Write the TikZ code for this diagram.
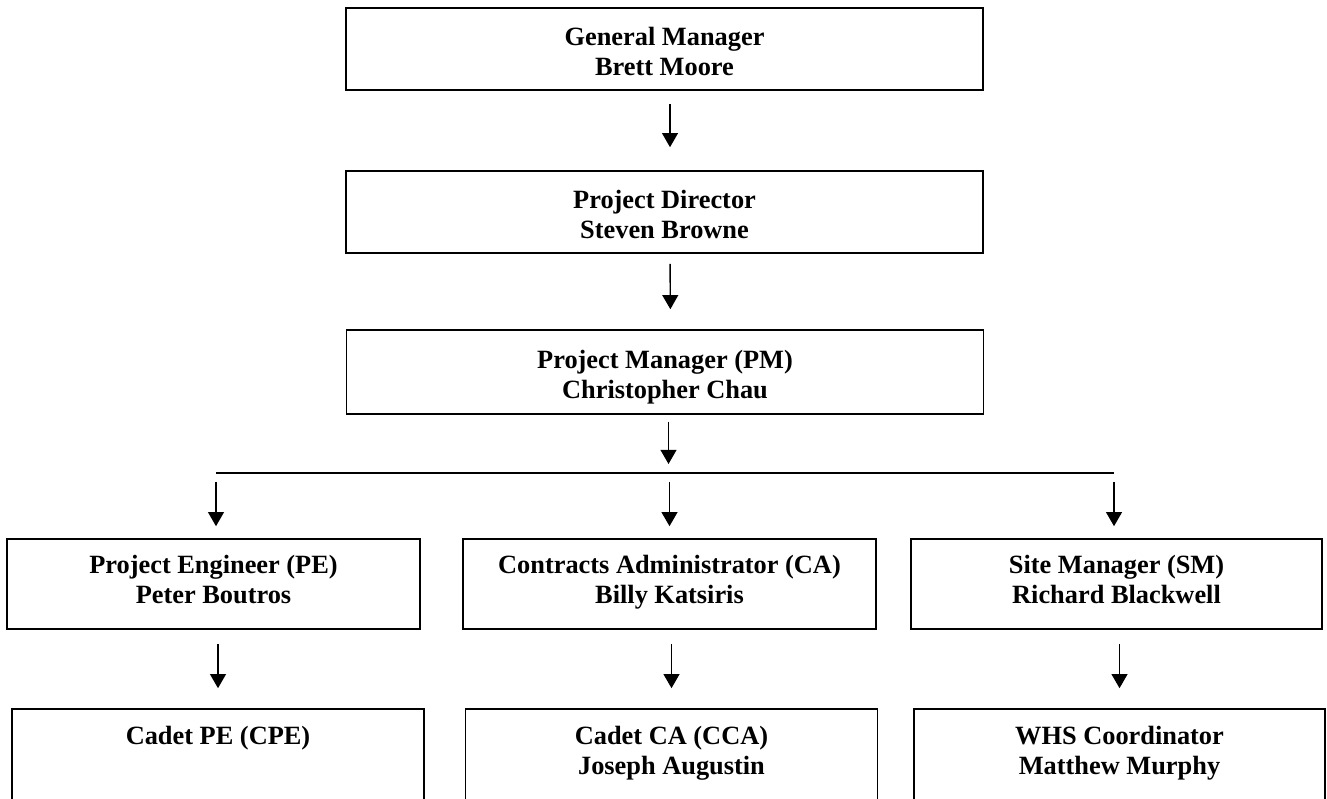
\documentclass[tikz,border=0pt]{standalone}
\usepackage{fontspec}
\setmainfont{Liberation Serif}
\usetikzlibrary{arrows.meta}

% extra room above the first line of the top boxes
\newcommand{\liftline}{\rule{0pt}{18pt}}

\begin{document}
\begin{tikzpicture}[
	post/.style={draw, line width=0.9pt, inner sep=0pt, align=center, font=\fontsize{15}{17}\selectfont\bfseries,
		execute at begin node=\strut, execute at end node=\strut},
	topbox/.style={post, minimum width=12.74cm, minimum height=1.64cm},
	midbox/.style={post, minimum width=8.26cm, minimum height=1.80cm},
	lowbox/.style={post, minimum width=8.24cm, minimum height=1.84cm},
	link/.style={-{Triangle[width=9pt,length=8pt]}, line width=0.8pt}
]
	\clip (0,0) rectangle (26.54,15.96);

	% management line
	\node[topbox] (gm) at (13.29,14.98) {\liftline General Manager\\Brett Moore};
	\node[topbox] (pd) at (13.29,11.72) {\liftline Project Director\\Steven Browne};
	\node[topbox, minimum height=1.68cm] (pm) at (13.30,8.52) {\liftline Project Manager (PM)\\Christopher Chau};

	% reports to the PM
	\node[midbox] (pe) at (4.27,4.28)  {Project Engineer (PE)\\Peter Boutros};
	\node[midbox] (ca) at (13.39,4.28) {Contracts Administrator (CA)\\Billy Katsiris};
	\node[midbox, minimum width=8.22cm] (sm) at (22.33,4.28) {Site Manager (SM)\\Richard Blackwell};

	% bottom row (cut off by the page)
	\node[lowbox] (cpe) at (4.36,0.86)  {Cadet PE (CPE)\\\mbox{}};
	\node[lowbox] (cca) at (13.43,0.86) {Cadet CA (CCA)\\Joseph Augustin};
	\node[lowbox, minimum width=8.22cm] (whs) at (22.39,0.86) {WHS Coordinator\\Matthew Murphy};

	% bus line
	\coordinate (busl) at (4.32,6.50);
	\coordinate (busr) at (22.28,6.50);
	\draw[line width=0.8pt] (busl) -- (busr);

	% arrows down the middle
	\draw[link, shorten <=0.26cm, shorten >=0.46cm] ([xshift=0.11cm]gm.south) -- ([xshift=0.11cm]pd.north);
	\draw[link, shorten <=0.20cm, shorten >=0.40cm] ([xshift=0.11cm]pd.south) -- ([xshift=0.11cm]pm.north);
	\draw[link, shorten <=0.14cm, shorten >=0.18cm] ([xshift=0.07cm]pm.south) -- ([xshift=0.07cm]pm.south |- busl);

	% arrows from the bus
	\draw[link, shorten <=0.18cm, shorten >=0.24cm] (busl) -- (busl |- pe.north);
	\draw[link, shorten <=0.18cm, shorten >=0.24cm] (ca.north |- busl) -- (ca.north);
	\draw[link, shorten <=0.18cm, shorten >=0.24cm] (busr) -- (busr |- sm.north);

	% arrows to the bottom row
	\draw[link, shorten <=0.28cm, shorten >=0.40cm] (cpe.north |- pe.south) -- (cpe.north);
	\draw[link, shorten <=0.28cm, shorten >=0.40cm] (cca.north |- ca.south) -- (cca.north);
	\draw[link, shorten <=0.28cm, shorten >=0.40cm] (whs.north |- sm.south) -- (whs.north);
\end{tikzpicture}
\end{document}
